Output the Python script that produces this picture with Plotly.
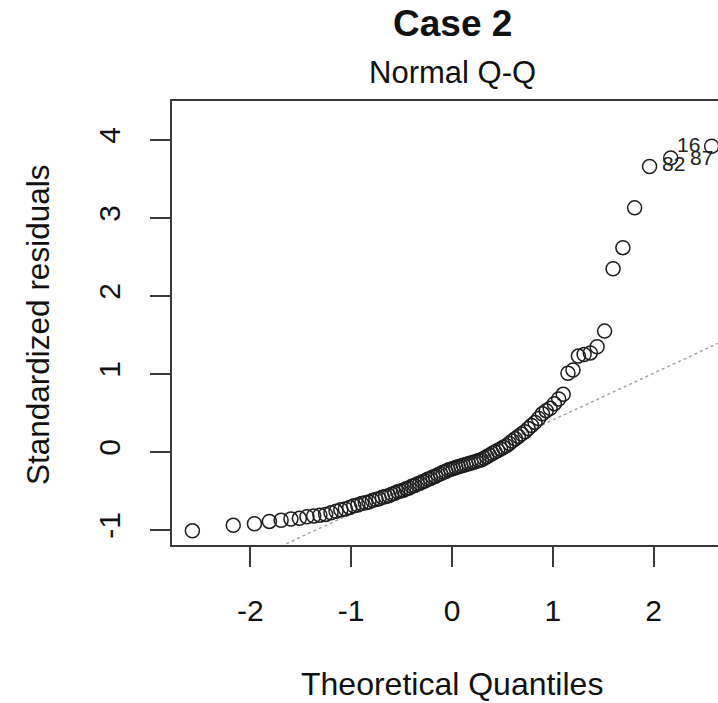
import plotly.graph_objects as go

# Theoretical quantiles (n = 100) and standardized residuals
theoretical = [
    -2.5758, -2.1701, -1.9600, -1.8119, -1.6954, -1.5982, -1.5141, -1.4395, -1.3722, -1.3106,
    -1.2536, -1.2004, -1.1503, -1.1031, -1.0581, -1.0152, -0.9741, -0.9346, -0.8965, -0.8596,
    -0.8239, -0.7892, -0.7554, -0.7225, -0.6903, -0.6588, -0.6280, -0.5978, -0.5681, -0.5388,
    -0.5101, -0.4817, -0.4538, -0.4261, -0.3989, -0.3719, -0.3451, -0.3186, -0.2924, -0.2663,
    -0.2404, -0.2147, -0.1891, -0.1637, -0.1383, -0.1130, -0.0878, -0.0627, -0.0376, -0.0125,
    0.0125, 0.0376, 0.0627, 0.0878, 0.1130, 0.1383, 0.1637, 0.1891, 0.2147, 0.2404,
    0.2663, 0.2924, 0.3186, 0.3451, 0.3719, 0.3989, 0.4261, 0.4538, 0.4817, 0.5101,
    0.5388, 0.5681, 0.5978, 0.6280, 0.6588, 0.6903, 0.7225, 0.7554, 0.7892, 0.8239,
    0.8596, 0.8965, 0.9346, 0.9741, 1.0152, 1.0581, 1.1031, 1.1503, 1.2004, 1.2536,
    1.3106, 1.3722, 1.4395, 1.5141, 1.5982, 1.6954, 1.8119, 1.9600, 2.1701, 2.5758,
]
residuals = [
    -1.01, -0.94, -0.92, -0.89, -0.875, -0.86, -0.85, -0.83, -0.82, -0.81,
    -0.80, -0.78, -0.76, -0.74, -0.73, -0.71, -0.69, -0.68, -0.66, -0.65,
    -0.64, -0.62, -0.61, -0.60, -0.58, -0.57, -0.56, -0.54, -0.53, -0.51,
    -0.50, -0.49, -0.47, -0.46, -0.44, -0.43, -0.41, -0.40, -0.38, -0.37,
    -0.35, -0.34, -0.32, -0.31, -0.29, -0.28, -0.26, -0.25, -0.23, -0.22,
    -0.21, -0.20, -0.19, -0.18, -0.17, -0.16, -0.15, -0.14, -0.13, -0.12,
    -0.11, -0.10, -0.08, -0.06, -0.04, -0.02, 0.00, 0.02, 0.04, 0.06,
    0.08, 0.11, 0.14, 0.17, 0.20, 0.23, 0.26, 0.30, 0.34, 0.38,
    0.43, 0.49, 0.53, 0.56, 0.62, 0.68, 0.74, 1.01, 1.05, 1.23,
    1.25, 1.27, 1.35, 1.55, 2.35, 2.62, 3.13, 3.66, 3.77, 3.92,
]

# Labelled observations: (label, index in sorted arrays, anchor side, pixel shift)
label_ids = ["16", "87", "82"]
label_idx = [99, 98, 97]
label_anchor = ["right", "left", "left"]
label_xshift = [-10, 17, 10]
label_yshift = [2, 0, 3]

# qqline reference line
line_intercept = -0.19
line_slope = 0.60

x_range = [-2.778, 2.639]
y_range = [-1.192, 4.5]
x_ticks = [-2, -1, 0, 1, 2]
y_ticks = [-1, 0, 1, 2, 3, 4]

FONT = "Liberation Sans, Arial, Helvetica, sans-serif"
AXC = "#3a3a3a"

fig = go.Figure()

line_x = [x_range[0], x_range[1]]
line_y = [line_intercept + line_slope * v for v in line_x]
fig.add_trace(go.Scatter(
    x=line_x, y=line_y, mode="lines",
    line=dict(color="#a0a0a0", width=1.4, dash="dot"),
    hoverinfo="skip", showlegend=False,
))

fig.add_trace(go.Scatter(
    x=theoretical, y=residuals, mode="markers",
    marker=dict(symbol="circle-open", size=14, color="#1e1e1e", line=dict(width=1.5, color="#1e1e1e")),
    showlegend=False,
))

annotations = []
for lab, idx, anc, xs, ys in zip(label_ids, label_idx, label_anchor, label_xshift, label_yshift):
    annotations.append(dict(
        x=theoretical[idx], y=residuals[idx], xref="x", yref="y",
        text=lab, showarrow=False, xanchor=anc, yanchor="middle",
        xshift=xs, yshift=ys, font=dict(family=FONT, size=21, color="#222222"),
    ))

annotations += [
    dict(x=0, xref="x", y=1, yref="paper", text="<b>Case 2</b>", showarrow=False,
         xanchor="center", yanchor="middle", yshift=78,
         font=dict(family=FONT, size=37, color="#111111")),
    dict(x=0, xref="x", y=1, yref="paper", text="Normal Q-Q", showarrow=False,
         xanchor="center", yanchor="middle", yshift=29,
         font=dict(family=FONT, size=31, color="#111111")),
    dict(x=0, xref="x", y=0, yref="paper", text="Theoretical Quantiles", showarrow=False,
         xanchor="center", yanchor="middle", yshift=-139,
         font=dict(family=FONT, size=32, color="#111111")),
    dict(x=0, xref="paper", y=0.5, yref="paper", text="Standardized residuals", showarrow=False,
         xanchor="center", yanchor="middle", xshift=-134, yshift=-2, textangle=-90,
         font=dict(family=FONT, size=31.5, color="#111111")),
]

fig.update_layout(
    width=718, height=703,
    margin=dict(l=172, r=0, t=101, b=158),
    paper_bgcolor="white", plot_bgcolor="white",
    annotations=annotations,
    showlegend=False,
)
fig.update_xaxes(
    range=x_range, tickvals=x_ticks, ticktext=[str(v) for v in x_ticks],
    showgrid=False, zeroline=False, showline=True, linecolor=AXC, linewidth=1.5, mirror=True,
    ticks="outside", ticklen=20, tickwidth=1.5, tickcolor=AXC,
    tickfont=dict(family=FONT, size=30, color="#111111"), ticklabelstandoff=18,
)
fig.update_yaxes(
    range=y_range, tickvals=y_ticks, ticktext=[str(v) for v in y_ticks],
    showgrid=False, zeroline=False, showline=True, linecolor=AXC, linewidth=1.5, mirror=False,
    ticks="outside", ticklen=20, tickwidth=1.5, tickcolor=AXC, tickangle=-90,
    tickfont=dict(family=FONT, size=30, color="#111111"), ticklabelstandoff=18,
)

fig.write_html("out.html")
